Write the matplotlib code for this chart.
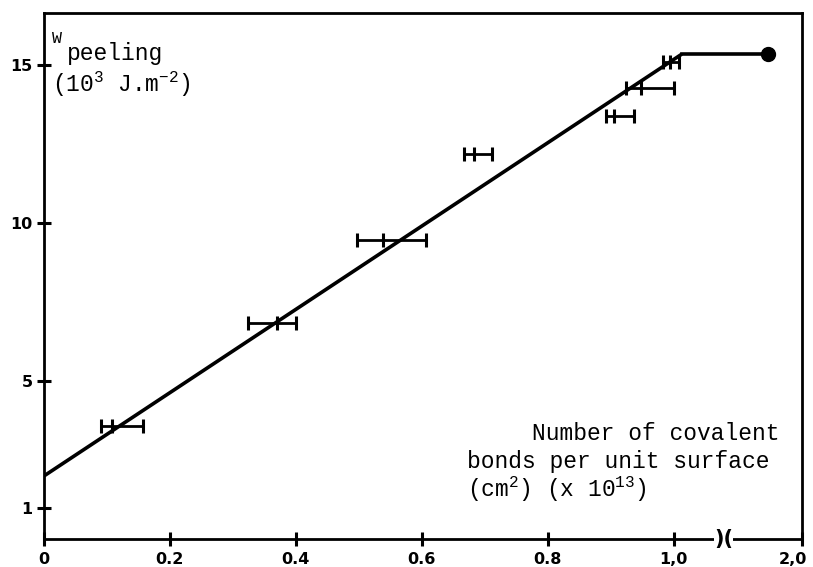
import matplotlib
matplotlib.use("Agg")
import matplotlib.pyplot as plt
import matplotlib.transforms as mtransforms
import numpy as np

# ---------------------------------------------------------------- data ---- #

# horizontal error bars: centre, left end, right end (x), and W (y)
bar_x = [0.108, 0.370, 0.538, 0.683, 0.905, 0.949, 0.995]
bar_lo = [0.090, 0.324, 0.498, 0.667, 0.892, 0.925, 0.983]
bar_hi = [0.157, 0.400, 0.606, 0.711, 0.937, 1.000, 1.008]
bar_y = [3.58, 6.84, 9.46, 12.18, 13.39, 14.27, 15.09]

# fitted line with plateau, last point is the dot
fit_x = [0.0, 1.013, 1.60]
fit_y = [2.0, 15.35, 15.35]

x_ticks = [0.0, 0.2, 0.4, 0.6, 0.8, 1.0, 2.0]
x_tick_labels = ["0", "0.2", "0.4", "0.6", "0.8", "1,0", "2,0"]
y_ticks = [1, 5, 10, 15]
y_tick_labels = ["1", "5", "10", "15"]

# --------------------------------------------------------- broken axis ---- #

brk = 1.08        # axis is cut here
squeeze = 0.134   # compression of the part after the cut


def forward(x):
    x = np.asarray(x, dtype=float)
    return np.where(x <= brk, x, brk + (x - brk) * squeeze)


def inverse(x):
    x = np.asarray(x, dtype=float)
    return np.where(x <= brk, x, brk + (x - brk) / squeeze)


# ---------------------------------------------------------------- plot ---- #

mono = "Liberation Mono"
ink = "black"

fig = plt.figure(figsize=(8.13, 5.67), dpi=100)
ax = fig.add_axes([0.054, 0.049, 0.932, 0.928])
ax.set_xscale("function", functions=(forward, inverse))

ax.plot(fit_x[:-1], fit_y[:-1], color=ink, lw=2.6, solid_capstyle="butt")
ax.plot(fit_x[1:], fit_y[1:], color=ink, lw=2.6)
ax.plot(fit_x[-1], fit_y[-1], "o", color=ink, ms=10)

xerr = [np.array(bar_x) - np.array(bar_lo), np.array(bar_hi) - np.array(bar_x)]
ax.errorbar(bar_x, bar_y, xerr=xerr, fmt="none", ecolor=ink, elinewidth=2.0,
            capsize=5, capthick=2.2)
ax.plot(bar_x, bar_y, "|", color=ink, ms=10, mew=2.2)

ax.set_xlim(0, 2.0)
ax.set_ylim(0, 16.65)

for side in ax.spines.values():
    side.set_linewidth(2.0)

ax.set_xticks(x_ticks)
ax.set_xticklabels(x_tick_labels, fontweight="bold", fontsize=11.5)
ax.set_yticks(y_ticks)
ax.set_yticklabels(y_tick_labels, fontweight="bold", fontsize=11.5)
ax.tick_params(direction="inout", length=10, width=2.2, pad=3)
ax.tick_params(axis="x", pad=4)
ax.minorticks_off()

# nudge the last x label so it stays inside the picture
last = ax.get_xticklabels()[-1]
last.set_transform(last.get_transform()
                   + mtransforms.ScaledTranslation(-6 / 72, 0, fig.dpi_scale_trans))

# break sign on the x axis
ax.text(brk, 0, ")(", transform=ax.get_xaxis_transform(), ha="center", va="center",
        fontsize=15, fontweight="bold", color=ink,
        bbox=dict(boxstyle="square,pad=0.0", fc="white", ec="none"))

# axis titles written inside the frame
ax.text(0.011, 0.943, "W", transform=ax.transAxes, family=mono, fontsize=12,
        va="baseline", ha="left")
ax.text(0.030, 0.911, "peeling", transform=ax.transAxes, family=mono, fontsize=16.5,
        va="baseline", ha="left")
ax.text(0.011, 0.850, r"(10$\mathregular{^3}$ J.m$\mathregular{^{-2}}$)",
        transform=ax.transAxes, family=mono, fontsize=16.5, va="baseline", ha="left")

ax.text(0.971, 0.188, "Number of covalent", transform=ax.transAxes, family=mono,
        fontsize=16.5, va="baseline", ha="right")
ax.text(0.559, 0.135, "bonds per unit surface", transform=ax.transAxes, family=mono,
        fontsize=16.5, va="baseline", ha="left")
ax.text(0.559, 0.080, r"(cm$\mathregular{^2}$) (x 10$\mathregular{^{13}}$)",
        transform=ax.transAxes, family=mono, fontsize=16.5, va="baseline", ha="left")

fig.savefig("out.png", dpi=100)
